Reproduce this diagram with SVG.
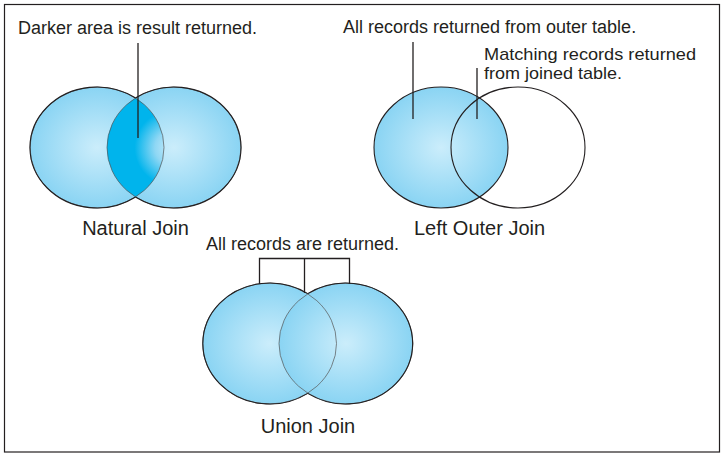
<svg xmlns="http://www.w3.org/2000/svg" width="725" height="457" viewBox="0 0 725 457">
<style>
text{font-family:"Liberation Sans",Arial,sans-serif;fill:#231f20}
.lbl{font-size:18px}
.sm{font-size:17px}
.ttl{font-size:20px}
.out{fill:none;stroke:#231f20;stroke-width:1.1}
.inner{fill:none;stroke:#555;stroke-width:0.7}
.ld{stroke:#231f20;stroke-width:1.3;fill:none}
</style>
<defs>
<radialGradient id="g" cx="0.5" cy="0.5" r="0.5">
<stop offset="0" stop-color="#cbedfb"/>
<stop offset="1" stop-color="#8ad4f3"/>
</radialGradient>
<radialGradient id="dk" gradientUnits="userSpaceOnUse" cx="172" cy="148" r="68">
<stop offset="0" stop-color="#c8ecfb"/>
<stop offset="0.25" stop-color="#8fd7f4"/>
<stop offset="0.55" stop-color="#00b4ec"/>
<stop offset="1" stop-color="#00b4ec"/>
</radialGradient>
<clipPath id="nlc"><ellipse cx="97" cy="147.5" rx="67" ry="60.5"/></clipPath>
</defs>
<rect x="4.5" y="4.5" width="715" height="447.5" fill="#fff" stroke="#231f20" stroke-width="1.2"/>

<g id="natural-join">
<ellipse cx="97" cy="147.5" rx="67" ry="60.5" fill="url(#g)"/>
<ellipse cx="174" cy="147.5" rx="67" ry="60.5" fill="url(#g)"/>
<ellipse cx="174" cy="147.5" rx="67" ry="60.5" fill="url(#dk)" clip-path="url(#nlc)"/>
<ellipse class="inner" cx="97" cy="147.5" rx="67" ry="60.5"/>
<ellipse class="inner" cx="174" cy="147.5" rx="67" ry="60.5"/>
<path class="out" d="M135.5,98 A67,60.5 0 1 0 135.5,197"/>
<path class="out" d="M135.5,98 A67,60.5 0 1 1 135.5,197"/>
<text class="ttl" x="135.5" y="235" text-anchor="middle">Natural Join</text>
</g>

<g id="left-outer-join">
<ellipse cx="441" cy="147.5" rx="67" ry="60.5" fill="url(#g)"/>
<ellipse class="out" cx="441" cy="147.5" rx="67" ry="60.5"/>
<ellipse class="out" cx="518" cy="147.5" rx="67" ry="60.5"/>
<text class="ttl" x="479.5" y="235" text-anchor="middle">Left Outer Join</text>
</g>

<g id="union-join">
<ellipse cx="269.5" cy="343.5" rx="67" ry="60.5" fill="url(#g)"/>
<ellipse cx="346" cy="343.5" rx="67" ry="60.5" fill="url(#g)"/>
<ellipse class="inner" cx="269.5" cy="343.5" rx="67" ry="60.5"/>
<ellipse class="inner" cx="346" cy="343.5" rx="67" ry="60.5"/>
<path class="out" d="M307.75,293.6 A67,60.5 0 1 0 307.75,393.4"/>
<path class="out" d="M307.75,293.6 A67,60.5 0 1 1 307.75,393.4"/>
<text class="ttl" x="308" y="433" text-anchor="middle">Union Join</text>
</g>

<g id="label-darker">
<text class="lbl" x="18" y="34">Darker area is result returned.</text>
</g>
<g id="label-outer">
<text class="lbl" x="343" y="33">All records returned from outer table.</text>
</g>
<g id="label-matching">
<text class="sm" x="484" y="60" textLength="212" lengthAdjust="spacingAndGlyphs">Matching records returned</text>
<text class="sm" x="484" y="79" textLength="138" lengthAdjust="spacingAndGlyphs">from joined table.</text>
</g>
<g id="label-all">
<text class="lbl" x="206" y="250">All records are returned.</text>
</g>

<g id="connectors">
<line class="ld" x1="138" y1="43" x2="138" y2="138"/>
<line class="ld" x1="413" y1="42" x2="413" y2="119"/>
<line class="ld" x1="477" y1="68" x2="477" y2="119"/>
<polyline class="ld" points="259.5,284 259.5,258.5 349.5,258.5 349.5,284"/>
<line class="ld" x1="304.5" y1="258.5" x2="304.5" y2="293"/>
</g>
</svg>
